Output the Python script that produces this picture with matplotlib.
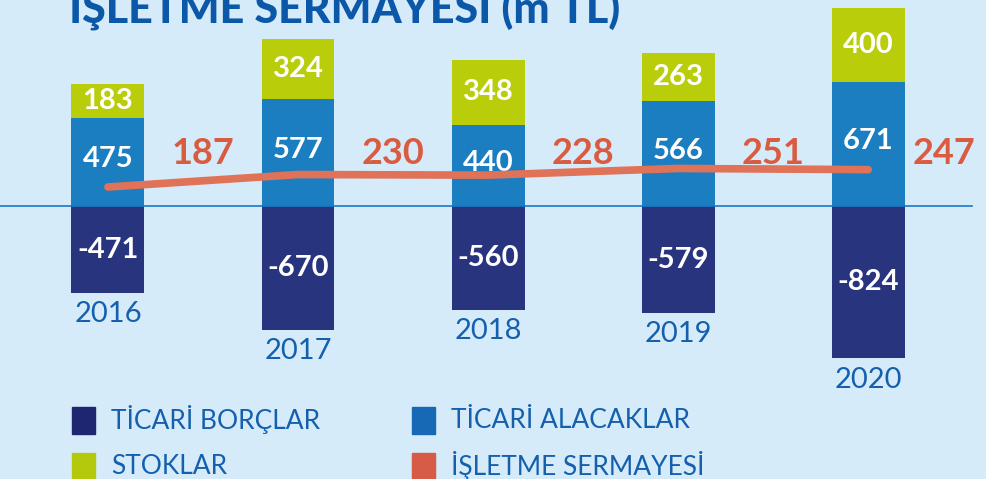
import matplotlib
matplotlib.use("Agg")
import matplotlib.pyplot as plt
from matplotlib.patches import Rectangle

plt.rcParams['font.family'] = ['Lato', 'DejaVu Sans']

# working capital components, million TL
years = ['2016', '2017', '2018', '2019', '2020']
borclar = [-471, -670, -560, -579, -824]
alacaklar = [475, 577, 440, 566, 671]
stoklar = [183, 324, 348, 263, 400]
sermaye = [187, 230, 228, 251, 247]

legend_names = ['TİCARİ BORÇLAR', 'TİCARİ ALACAKLAR', 'STOKLAR', 'İŞLETME SERMAYESİ']

bg = '#d5ebfa'
navy = '#29347f'
blue = '#1b7ec0'
green = '#bacd0b'
orange_line = '#e07258'
orange_txt = '#d95b40'
text_blue = '#1560ad'

fig = plt.figure(figsize=(9.86, 4.79), dpi=100, facecolor=bg)
ax = fig.add_axes([0, 0, 1, 1])
ax.set_facecolor(bg)

x = range(len(years))
w = 0.384
ax.bar(x, borclar, w, color=navy, zorder=2)
ax.bar(x, alacaklar, w, color=blue, zorder=2)
ax.bar(x, stoklar, w, bottom=alacaklar, color=green, zorder=2)
ax.axhline(0, xmin=0, xmax=972 / 986, color='#1a78c9', lw=1.2, zorder=3)

ax.set_xlim(-0.568, 4.62)
ax.set_ylim(-1476, 1114)
ax.axis('off')

for i in x:
    ax.text(i, borclar[i] / 2, str(borclar[i]), color='white', fontsize=21,
            fontweight='bold', ha='center', va='center', zorder=4)
    ax.text(i, alacaklar[i] / 2 + 15, str(alacaklar[i]), color='white', fontsize=21,
            fontweight='bold', ha='center', va='center', zorder=4)
    ax.text(i, alacaklar[i] + stoklar[i] / 2, str(stoklar[i]), color='white',
            fontsize=21, fontweight='bold', ha='center', va='center', zorder=4)
    ax.annotate(years[i], (i, borclar[i]), xytext=(0, -6), textcoords='offset points',
                color=text_blue, fontsize=21, ha='center', va='top')
    ax.text(min(i + 0.5, 4.4), 285, str(sermaye[i]), color=orange_txt, fontsize=26,
            fontweight='bold', ha='center', va='center', zorder=4)

# net working capital on its own scale
ax2 = ax.twinx()
ax2.set_ylim(-820, 832)
ax2.axis('off')
ax2.plot(list(x), sermaye, color=orange_line, lw=5.5, solid_capstyle='round', zorder=5)

fig.text(69 / 986, 1 - 22 / 479, 'İŞLETME SERMAYESİ (m TL)', color='#0b57a8',
         fontsize=31, fontweight='black', ha='left', va='baseline')

# legend drawn by hand in two columns
leg_colors = ['#1f2671', '#1768b5', '#b5c90c', '#d75c45']
leg_pos = [(72, 407), (412, 407), (72, 453), (412, 453)]
for name, col, (px, py) in zip(legend_names, leg_colors, leg_pos):
    fig.patches.append(Rectangle((px / 986, 1 - (py + 27) / 479), 23 / 986, 27 / 479,
                                 transform=fig.transFigure, color=col))
    fig.text((px + 39) / 986, 1 - (py + 13) / 479, name, color=text_blue,
             fontsize=19, ha='left', va='center')

fig.savefig('out.png', dpi=100, facecolor=bg)
